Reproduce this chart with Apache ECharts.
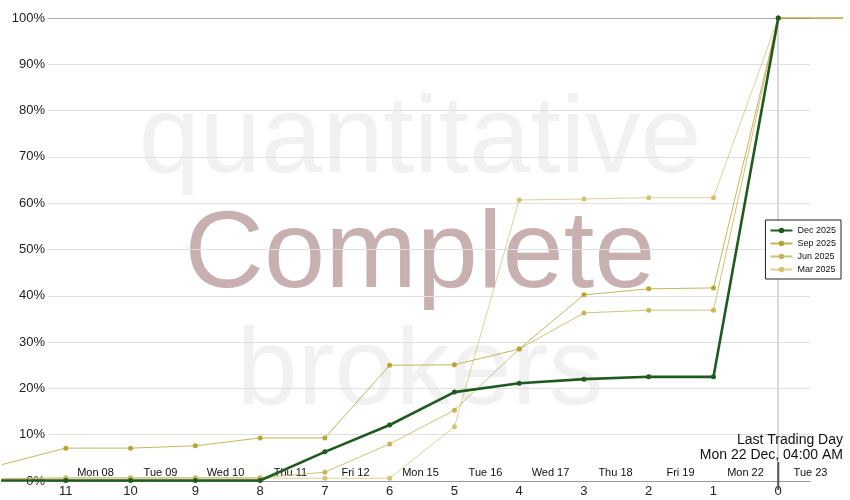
<!DOCTYPE html>
<html><head><meta charset="utf-8">
<script src="https://cdn.jsdelivr.net/npm/echarts@6/dist/echarts.min.js"></script>
<style>html,body{margin:0;padding:0;background:#fff}#c{width:850px;height:500px}</style>
</head><body><div id="c"></div>
<script>
// Days before last trading day
const xDays   = [12, 11, 10, 9, 8, 7, 6, 5, 4, 3, 2, 1, 0];
const dec2025 = [0.1, 0.1, 0.1, 0.1, 0.1, 6.3, 12.1, 19.2, 21.1, 22.0, 22.5, 22.5, 100];
const sep2025 = [3.5, 7.1, 7.1, 7.6, 9.3, 9.3, 25.0, 25.1, 28.5, 40.2, 41.5, 41.7, 100];
const jun2025 = [0.5, 0.7, 0.7, 0.7, 0.7, 1.9, 8.0, 15.3, 28.5, 36.3, 36.9, 36.9, 100];
const mar2025 = [0.5, 0.6, 0.6, 0.6, 0.6, 0.6, 0.6, 11.7, 60.7, 60.9, 61.2, 61.2, 100];
const afterX  = [0, -1];
const afterY  = [100, 100];
const dayLabels = ['Mon 08', 'Tue 09', 'Wed 10', 'Thu 11', 'Fri 12', 'Mon 15', 'Tue 16', 'Wed 17', 'Thu 18', 'Fri 19', 'Mon 22', 'Tue 23'];
const seriesNames = ['Dec 2025', 'Sep 2025', 'Jun 2025', 'Mar 2025'];
const titleLines = ['Last Trading Day', 'Mon 22 Dec, 04:00 AM'];
const watermark = ['quantitative', 'Complete', 'brokers'];

const FONT = 'Liberation Sans, Arial, Helvetica, sans-serif';
const pairs = (xs, ys) => xs.map((x, i) => [x, ys[i]]);

const chart = echarts.init(document.getElementById('c'), null, {renderer: 'canvas'});

function lineSeries(name, vals, color, width, size, lineOpacity) {
  return {
    name: name, type: 'line', xAxisIndex: 0, yAxisIndex: 0,
    data: pairs(xDays, vals),
    symbol: 'circle', symbolSize: size, showSymbol: true,
    itemStyle: {color: color},
    lineStyle: {color: color, width: width, opacity: lineOpacity},
    animation: false, z: 3
  };
}

const decS = lineSeries(seriesNames[0], dec2025, '#1e5c1e', 2.6, 5, 1);
decS.z = 5;
decS.markLine = {
  silent: true, symbol: ['none', 'none'], label: {show: false},
  lineStyle: {color: '#d9d9d9', width: 2, type: 'solid'},
  data: [{xAxis: 0}], z: 1
};

const option = {
  animation: false,
  backgroundColor: '#fff',
  textStyle: {fontFamily: FONT},
  grid: [
    {left: 0, right: 7, top: 18, bottom: 19},
    {left: 48, right: 40, top: 18, bottom: 19},
    {left: 63, right: 7, top: 18, bottom: 19}
  ],
  xAxis: [
    {type: 'value', gridIndex: 0, min: -1, max: 11.97, interval: 1, inverse: true,
     axisLine: {show: false}, axisTick: {show: false}, splitLine: {show: false},
     axisLabel: {margin: 4, fontSize: 13, color: '#222', fontFamily: FONT,
       formatter: v => (v < 0 || v > 11) ? '' : String(v)}},
    {type: 'value', gridIndex: 1, min: 0, max: 1, position: 'bottom',
     axisLine: {show: true, lineStyle: {color: '#999', width: 1}}, axisTick: {show: false},
     axisLabel: {show: false}, splitLine: {show: false}},
    {type: 'value', gridIndex: 1, min: 0, max: 1, position: 'top',
     axisLine: {show: true, lineStyle: {color: '#aaa', width: 1}}, axisTick: {show: false},
     axisLabel: {show: false}, splitLine: {show: false}},
    {type: 'category', gridIndex: 2, data: dayLabels, boundaryGap: true, position: 'bottom',
     axisLine: {show: false}, axisTick: {show: false}, splitLine: {show: false},
     axisLabel: {inside: true, margin: 3, fontSize: 11, color: '#111', interval: 0, fontFamily: FONT}}
  ],
  yAxis: [
    {type: 'value', gridIndex: 0, min: 0, max: 100, show: false},
    {type: 'value', gridIndex: 1, min: 0, max: 100, interval: 10,
     axisLine: {show: false}, axisTick: {show: false},
     axisLabel: {formatter: '{value}%', fontSize: 13, color: '#222', margin: 3, fontFamily: FONT},
     splitLine: {show: true, lineStyle: {color: '#e0e0e0', width: 1}}},
    {type: 'value', gridIndex: 2, min: 0, max: 100, show: false}
  ],
  legend: {
    data: seriesNames, orient: 'vertical', right: 9, top: 220,
    itemWidth: 22, itemHeight: 7, itemGap: 4,
    padding: [6, 5, 5, 4],
    borderColor: '#222', borderWidth: 1, borderRadius: 0, backgroundColor: '#fff',
    textStyle: {fontSize: 9, color: '#111', fontFamily: FONT}
  },
  graphic: [
    {type: 'text', x: 420, y: 142, z: -10, silent: true,
     style: {text: watermark[0], font: '110px ' + FONT, fill: '#f1f1f1', textAlign: 'center', textVerticalAlign: 'middle'}},
    {type: 'text', x: 420, y: 257, z: -10, silent: true,
     style: {text: watermark[1], font: '110px ' + FONT, fill: '#c8b0b0', textAlign: 'center', textVerticalAlign: 'middle'}},
    {type: 'text', x: 420, y: 374, z: -10, silent: true,
     style: {text: watermark[2], font: '110px ' + FONT, fill: '#f1f1f1', textAlign: 'center', textVerticalAlign: 'middle'}},
    {type: 'text', right: 7, top: 433, z: 10,
     style: {text: titleLines.join('\n'), font: '14px ' + FONT, fill: '#111', textAlign: 'right', lineHeight: 15}}
  ],
  series: [
    {name: 'after', type: 'line', xAxisIndex: 0, yAxisIndex: 0, data: pairs(afterX, afterY),
     symbol: 'none', lineStyle: {color: '#ad9a1c', width: 1.5}, z: 2},
    lineSeries(seriesNames[3], mar2025, '#d2c272', 1, 5, 0.75),
    lineSeries(seriesNames[2], jun2025, '#c9b65a', 1, 5, 0.85),
    lineSeries(seriesNames[1], sep2025, '#b9a430', 1, 5, 0.8),
    decS
  ]
};
chart.setOption(option);

// short dark marker at the last trading day, positioned through the x scale
const px = chart.convertToPixel({xAxisIndex: 0}, 0);
chart.setOption({graphic: option.graphic.concat([
  {type: 'line', z: 10, shape: {x1: px, y1: 462, x2: px, y2: 490}, style: {stroke: '#555', lineWidth: 2}}
])});
</script></body></html>
